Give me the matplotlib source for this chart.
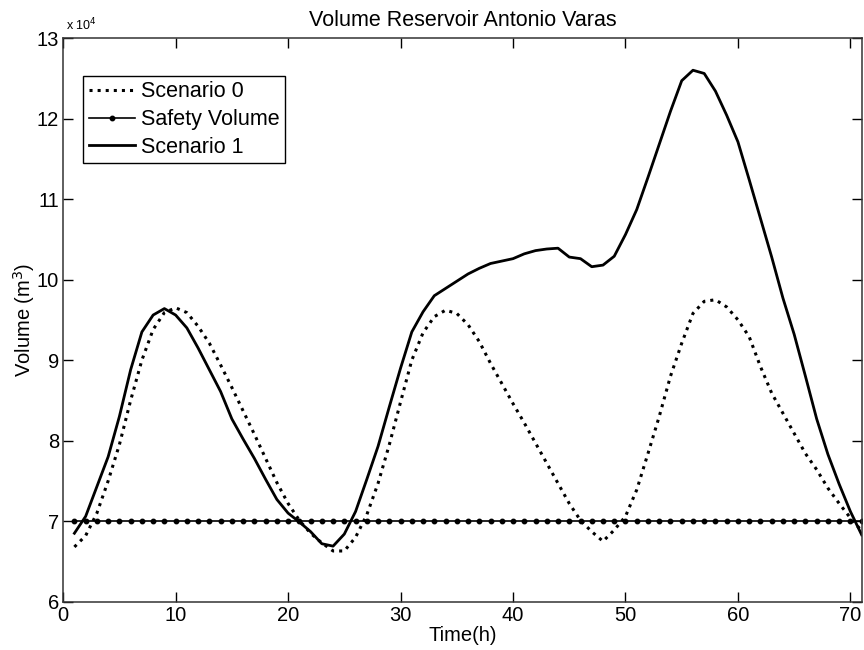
import numpy as np
import matplotlib
matplotlib.use('Agg')
from matplotlib import pyplot as plt
from matplotlib.ticker import FuncFormatter

plt.rcParams['font.family'] = ['Liberation Sans', 'DejaVu Sans']

hours = np.arange(1, 72)

# volumes in units of 1e4 m^3
scen0 = [6.68, 6.82, 7.10, 7.50, 7.95, 8.50, 9.00, 9.38, 9.59, 9.65,
         9.59, 9.42, 9.21, 8.94, 8.66, 8.37, 8.08, 7.78, 7.48, 7.22,
         7.01, 6.85, 6.73, 6.63, 6.63, 6.80, 7.08, 7.47, 7.95, 8.48,
         9.00, 9.34, 9.54, 9.62, 9.58, 9.44, 9.23, 8.96, 8.71, 8.46,
         8.22, 7.97, 7.72, 7.47, 7.22, 7.01, 6.87, 6.75, 6.89, 7.06,
         7.39, 7.84, 8.30, 8.80, 9.21, 9.58, 9.73, 9.75, 9.66, 9.50,
         9.29, 8.92, 8.59, 8.34, 8.09, 7.84, 7.64, 7.41, 7.22, 7.04,
         6.88]
scen1 = [6.85, 7.06, 7.43, 7.80, 8.30, 8.88, 9.35, 9.56, 9.64, 9.56,
         9.40, 9.15, 8.88, 8.61, 8.27, 8.02, 7.78, 7.52, 7.27, 7.10,
         6.99, 6.87, 6.72, 6.69, 6.84, 7.12, 7.52, 7.93, 8.42, 8.90,
         9.35, 9.60, 9.80, 9.89, 9.98, 10.07, 10.14, 10.20, 10.23, 10.26,
         10.32, 10.36, 10.38, 10.39, 10.28, 10.26, 10.16, 10.18, 10.29, 10.56,
         10.87, 11.27, 11.68, 12.09, 12.47, 12.60, 12.56, 12.34, 12.04, 11.71,
         11.24, 10.76, 10.28, 9.77, 9.32, 8.80, 8.27, 7.83, 7.46, 7.12,
         6.83]
safety = 70000

scen0 = np.array(scen0) * 1e4
scen1 = np.array(scen1) * 1e4

fig = plt.figure(figsize=(8.64, 6.5), dpi=100)
ax = fig.add_axes([0.0731, 0.0743, 0.9242, 0.8672])

ax.plot(hours, scen0, color='black', linestyle=':', linewidth=2.2, label='Scenario 0')
ax.plot(hours, np.full(len(hours), safety), color='black', linewidth=1.2,
        marker='o', markersize=3.2, label='Safety Volume')
ax.plot(hours, scen1, color='black', linewidth=2.0, label='Scenario 1')

ax.set_xlim(0, 71)
ax.set_ylim(60000, 130000)
ax.set_xticks(np.arange(0, 71, 10))
ax.set_yticks(np.arange(60000, 130001, 10000))
ax.yaxis.set_major_formatter(FuncFormatter(lambda v, p: '%g' % (v / 1e4)))
ax.tick_params(direction='in', length=7, width=1, top=True, right=True,
               labelsize=14.5, pad=3)
for s in ax.spines.values():
    s.set_linewidth(1.1)
    s.set_color('#333333')

ax.text(0.003, 1.008, r'x 10$^4$', transform=ax.transAxes, fontsize=9,
        ha='left', va='bottom')
ax.set_title('Volume Reservoir Antonio Varas', fontsize=15.5, pad=9)
ax.set_xlabel('Time(h)', fontsize=14.5, labelpad=1)
ax.set_ylabel('Volume (m$^3$)', fontsize=14.5, labelpad=0)

leg = ax.legend(loc='upper left', bbox_to_anchor=(0.025, 0.933), fontsize=15.5,
                fancybox=False, edgecolor='black', framealpha=1,
                handlelength=2.15, handletextpad=0.3, borderpad=0.25,
                labelspacing=0.32, borderaxespad=0)
leg.get_frame().set_linewidth(1.0)

fig.savefig('out.png', dpi=100)
